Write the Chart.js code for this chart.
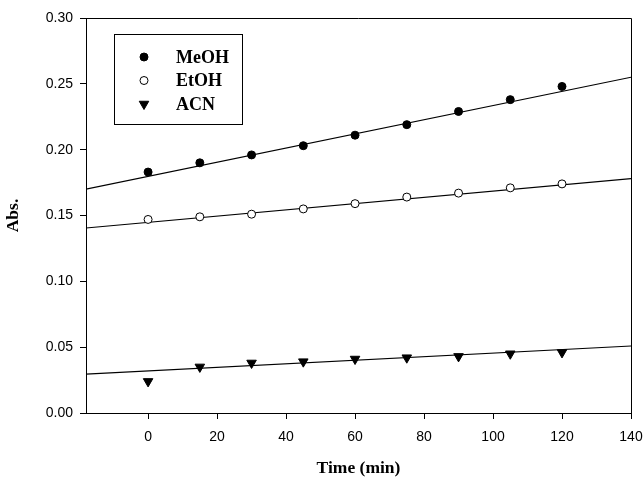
<!DOCTYPE html>
<html>
<head>
<meta charset="utf-8">
<script src="https://cdn.jsdelivr.net/npm/chart.js@4"></script>
<style>
  body { margin: 0; background: #fff; }
  #wrap { width: 644px; height: 477px; }
</style>
</head>
<body>
<div id="wrap"><canvas id="chart" width="644" height="477"></canvas></div>
<script>
// values
const times = [0, 15, 30, 45, 60, 75, 90, 105, 120];
const meoh = [0.183, 0.190, 0.196, 0.203, 0.211, 0.219, 0.229, 0.238, 0.248];
const etoh = [0.147, 0.149, 0.151, 0.155, 0.159, 0.164, 0.167, 0.171, 0.174];
const acn  = [0.024, 0.035, 0.038, 0.039, 0.041, 0.042, 0.043, 0.045, 0.046];

// regression line ends, read at the plot edges
const fitX = [-18, 140];
const fitMeoh = [0.170, 0.255];
const fitEtoh = [0.1405, 0.178];
const fitAcn  = [0.0296, 0.0509];

const xTicks = [0, 20, 40, 60, 80, 100, 120, 140];
const yTicks = [0.00, 0.05, 0.10, 0.15, 0.20, 0.25, 0.30];

const legendItems = ['MeOH', 'EtOH', 'ACN'];

function pts(xs, ys) {
    return xs.map((x, i) => ({x: x, y: ys[i]}));
}

const markers = [
    {pointStyle: 'circle', radius: 4, bg: '#000', rotation: 0},
    {pointStyle: 'circle', radius: 4, bg: '#fff', rotation: 0},
    {pointStyle: 'triangle', radius: 5.5, bg: '#000', rotation: 180}
];

function markerSet(label, data, m) {
    return {
        label: label,
        data: data,
        showLine: false,
        pointStyle: m.pointStyle,
        pointRadius: m.radius,
        pointRotation: m.rotation,
        pointBackgroundColor: m.bg,
        pointBorderColor: '#000',
        pointBorderWidth: 1,
        order: 0
    };
}

function fitSet(data) {
    return {
        data: data,
        showLine: true,
        borderColor: '#000',
        borderWidth: 1.2,
        pointRadius: 0,
        order: 1
    };
}

// frame on top/right plus the legend box
const framePlugin = {
    id: 'frame',
    afterDraw(chart) {
        const ctx = chart.ctx;
        const a = chart.chartArea;
        ctx.save();
        ctx.strokeStyle = '#000';
        ctx.lineWidth = 1;
        ctx.beginPath();
        ctx.moveTo(a.left, a.top + 0.5);
        ctx.lineTo(a.right + 0.5, a.top + 0.5);
        ctx.lineTo(a.right + 0.5, a.bottom);
        ctx.stroke();

        // legend
        ctx.strokeRect(114.5, 34.5, 128, 90);
        ctx.font = 'bold 18px "Liberation Serif", "Times New Roman", serif';
        ctx.textBaseline = 'middle';
        legendItems.forEach((name, i) => {
            const y = 57 + i * 23.5;
            const m = markers[i];
            ctx.fillStyle = m.bg;
            ctx.strokeStyle = '#000';
            Chart.helpers.drawPoint(ctx, {
                pointStyle: m.pointStyle,
                radius: m.radius,
                rotation: m.rotation,
                borderWidth: 1
            }, 144, y);
            ctx.fillStyle = '#000';
            ctx.fillText(name, 176, y + 1);
        });
        ctx.restore();
    }
};

const tickFont = {family: '"Liberation Sans", Arial, sans-serif', size: 14};
const titleFont = {family: '"Liberation Serif", "Times New Roman", serif', size: 17.5, weight: 'bold', lineHeight: 1};

new Chart(document.getElementById('chart').getContext('2d'), {
    type: 'scatter',
    data: {
        datasets: [
            markerSet('MeOH', pts(times, meoh), markers[0]),
            markerSet('EtOH', pts(times, etoh), markers[1]),
            markerSet('ACN', pts(times, acn), markers[2]),
            fitSet(pts(fitX, fitMeoh)),
            fitSet(pts(fitX, fitEtoh)),
            fitSet(pts(fitX, fitAcn))
        ]
    },
    options: {
        responsive: false,
        animation: false,
        layout: {padding: {left: 0, top: 18, right: 13, bottom: 0}},
        plugins: {
            legend: {display: false},
            tooltip: {enabled: false}
        },
        scales: {
            x: {
                type: 'linear',
                min: -18,
                max: 140,
                afterBuildTicks: s => { s.ticks = xTicks.map(v => ({value: v})); },
                afterFit: s => { s.height = 64; s.paddingLeft = 0; s.paddingRight = 0; },
                grid: {drawOnChartArea: false, drawTicks: true, tickLength: 6, color: '#000'},
                border: {display: true, color: '#000', width: 1},
                ticks: {color: '#000', font: tickFont, padding: 10, maxRotation: 0},
                title: {display: true, text: 'Time (min)', color: '#000', font: titleFont, padding: {top: 0, bottom: 0}}
            },
            y: {
                type: 'linear',
                min: 0,
                max: 0.30,
                afterBuildTicks: s => { s.ticks = yTicks.map(v => ({value: v})); },
                afterFit: s => { s.width = 86; s.paddingTop = 0; s.paddingBottom = 0; },
                grid: {drawOnChartArea: false, drawTicks: true, tickLength: 6, color: '#000'},
                border: {display: true, color: '#000', width: 1},
                ticks: {color: '#000', font: tickFont, padding: 7, callback: v => v.toFixed(2)},
                title: {display: true, text: 'Abs.', color: '#000', font: titleFont, padding: {top: 5}}
            }
        }
    },
    plugins: [framePlugin]
});
</script>
</body>
</html>
